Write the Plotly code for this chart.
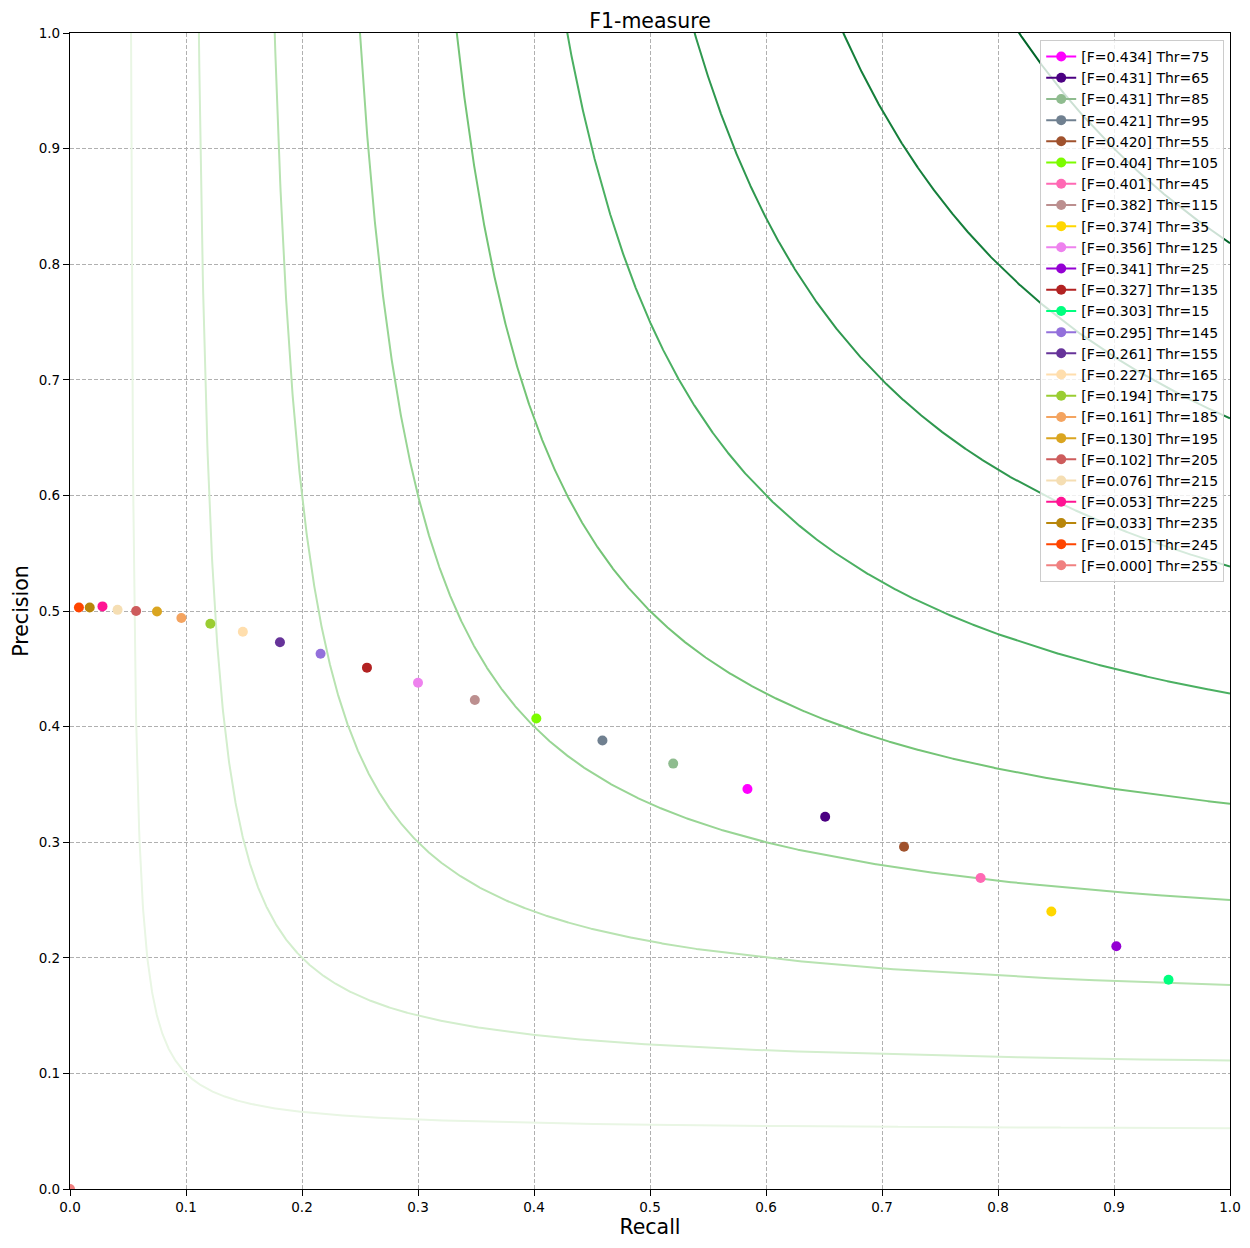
import numpy as np
import plotly.graph_objects as go
from plotly.colors import sample_colorscale

# iso-F1 reference levels
f_levels = [0.1, 0.2, 0.3, 0.4, 0.5, 0.6, 0.7, 0.8, 0.9]

# operating points, in legend order (sorted by F)
thresholds = [75, 65, 85, 95, 55, 105, 45, 115, 35, 125, 25, 135, 15,
              145, 155, 165, 175, 185, 195, 205, 215, 225, 235, 245, 255]
f_scores = [0.434, 0.431, 0.431, 0.421, 0.420, 0.404, 0.401, 0.382, 0.374,
            0.356, 0.341, 0.327, 0.303, 0.295, 0.261, 0.227, 0.194, 0.161,
            0.130, 0.102, 0.076, 0.053, 0.033, 0.015, 0.000]
recall = [0.584, 0.651, 0.520, 0.459, 0.719, 0.402, 0.785, 0.349, 0.846,
          0.300, 0.902, 0.256, 0.947, 0.216, 0.181, 0.149, 0.121, 0.096,
          0.075, 0.057, 0.041, 0.028, 0.017, 0.0077, 0.0]
precision = [0.346, 0.322, 0.368, 0.388, 0.296, 0.407, 0.269, 0.423, 0.240,
             0.438, 0.210, 0.451, 0.181, 0.463, 0.473, 0.482, 0.489, 0.494,
             0.4995, 0.500, 0.501, 0.504, 0.503, 0.503, 0.0]

point_colors = ["magenta", "indigo", "darkseagreen", "slategray", "sienna",
                "lawngreen", "hotpink", "rosybrown", "gold", "violet",
                "darkviolet", "firebrick", "springgreen", "mediumpurple",
                "rebeccapurple", "navajowhite", "yellowgreen", "sandybrown",
                "goldenrod", "indianred", "wheat", "deeppink", "darkgoldenrod",
                "orangered", "lightcoral"]

FONT = "DejaVu Sans"

fig = go.Figure()

# iso-F curves: P = F*R / (2R - F)
curve_colors = sample_colorscale("Greens", f_levels)
for f, col in zip(f_levels, curve_colors):
    r = np.linspace(f / 2 + 1e-4, 1.0, 3000)
    p = f * r / (2 * r - f)
    keep = p <= 3
    fig.add_trace(go.Scatter(
        x=r[keep], y=p[keep], mode="lines",
        line=dict(color=col, width=2),
        showlegend=False, hoverinfo="skip",
    ))

for thr, f, r, p, col in zip(thresholds, f_scores, recall, precision, point_colors):
    fig.add_trace(go.Scatter(
        x=[r], y=[p], mode="lines+markers",
        name=f"[F={f:.3f}] Thr={thr}",
        marker=dict(color=col, size=10),
        line=dict(color=col, width=2),
    ))

axis_common = dict(
    range=[0, 1], dtick=0.1, tickformat=".1f",
    showline=True, linecolor="black", linewidth=1.2, mirror=True,
    ticks="outside", ticklen=6, tickcolor="black",
    showgrid=True, gridcolor="#b0b0b0", griddash="4px,2px", gridwidth=1,
    zeroline=False,
    tickfont=dict(family=FONT, size=13.5, color="black"),
)

# page body has an 8px margin, so left/top margins are trimmed by 8
fig.update_layout(
    width=1250, height=1248,
    margin=dict(l=60, r=28, t=25, b=67),
    plot_bgcolor="white", paper_bgcolor="white",
    font=dict(family=FONT, color="black"),
    title=dict(text="F1-measure", x=0.5, xref="paper", xanchor="center",
               y=1, yref="paper", yanchor="bottom", pad=dict(b=5),
               font=dict(family=FONT, size=20.5, color="black")),
    xaxis=dict(axis_common, title=dict(text="Recall", standoff=5,
                                       font=dict(family=FONT, size=20.5))),
    yaxis=dict(axis_common, title=dict(text="Precision", standoff=4,
                                       font=dict(family=FONT, size=20.5))),
    legend=dict(x=0.995, y=0.994, xanchor="right", yanchor="top",
                bgcolor="rgba(255,255,255,0.8)", bordercolor="#cccccc",
                borderwidth=1, font=dict(family=FONT, size=14, color="black")),
)

fig.write_html("out.html")
